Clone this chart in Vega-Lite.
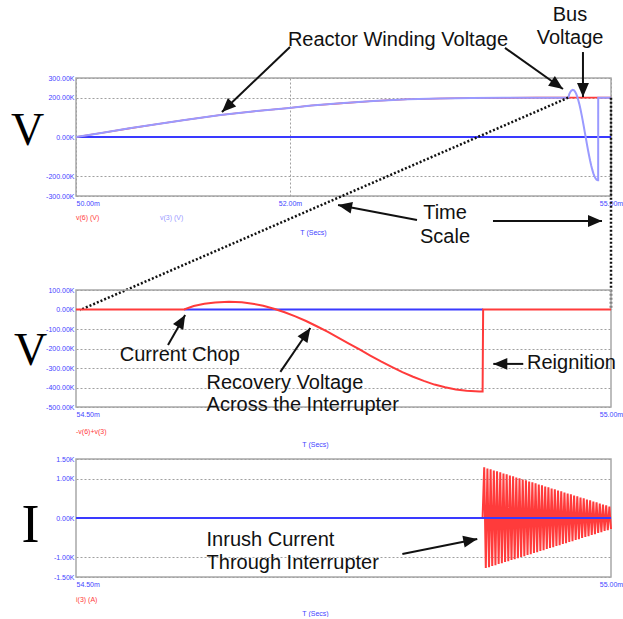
{
  "$schema": "https://vega.github.io/schema/vega-lite/v6.json",
  "padding": {"left": 9, "top": 4, "right": 0, "bottom": 0},
  "bounds": "flush",
  "spacing": 94,
  "config": {
    "view": {"stroke": "#a8a8a8", "strokeWidth": 1.5},
    "axis": {"domain": false, "ticks": false, "labelFont": "Liberation Sans", "labelFontSize": 7, "labelColor": "#4444ff", "labelPadding": 3, "gridColor": "#a0a0a0", "gridDash": [2, 2], "gridWidth": 1, "titleFont": "Liberation Sans", "titleFontSize": 7, "titleColor": "#4444ff", "titleFontWeight": "normal"},
    "axisY": {"labelPadding": 2},
    "text": {"font": "Liberation Sans", "fontSize": 20, "color": "#111"}
  },
  "datasets": {
    "top_zero": [{"t": 50, "v": 0}, {"t": 55, "v": 0}],
    "top_v6": [
      {"t": 50.0, "v": 0}, {"t": 50.25, "v": 22}, {"t": 50.5, "v": 44}, {"t": 50.75, "v": 65}, {"t": 51.0, "v": 85}, {"t": 51.35, "v": 112}, {"t": 51.65, "v": 130}, {"t": 51.97, "v": 146}, {"t": 52.2, "v": 160}, {"t": 52.47, "v": 171}, {"t": 52.78, "v": 183}, {"t": 53.1, "v": 192}, {"t": 53.4, "v": 196}, {"t": 53.7, "v": 198}, {"t": 54.0, "v": 199}, {"t": 54.3, "v": 200}, {"t": 54.601, "v": 200}, {"t": 54.88, "v": 200}, {"t": 55.0, "v": 200}
    ],
    "top_v3": [
      {"t": 50.0, "v": 0}, {"t": 50.25, "v": 22}, {"t": 50.5, "v": 44}, {"t": 50.75, "v": 65}, {"t": 51.0, "v": 85}, {"t": 51.35, "v": 112}, {"t": 51.65, "v": 130}, {"t": 51.97, "v": 146}, {"t": 52.2, "v": 160}, {"t": 52.47, "v": 171}, {"t": 52.78, "v": 183}, {"t": 53.1, "v": 192}, {"t": 53.4, "v": 196}, {"t": 53.7, "v": 198}, {"t": 54.0, "v": 199}, {"t": 54.3, "v": 200}, {"t": 54.601, "v": 200},
      {"t": 54.61, "v": 218}, {"t": 54.62, "v": 229}, {"t": 54.63, "v": 236}, {"t": 54.643, "v": 240}, {"t": 54.655, "v": 237}, {"t": 54.665, "v": 230}, {"t": 54.675, "v": 219}, {"t": 54.685, "v": 204}, {"t": 54.695, "v": 186}, {"t": 54.705, "v": 165}, {"t": 54.715, "v": 141}, {"t": 54.725, "v": 114}, {"t": 54.735, "v": 86}, {"t": 54.745, "v": 56}, {"t": 54.755, "v": 25}, {"t": 54.765, "v": -5}, {"t": 54.775, "v": -36}, {"t": 54.785, "v": -66}, {"t": 54.795, "v": -94}, {"t": 54.805, "v": -121}, {"t": 54.815, "v": -145}, {"t": 54.825, "v": -166}, {"t": 54.835, "v": -185}, {"t": 54.845, "v": -199}, {"t": 54.855, "v": -210}, {"t": 54.865, "v": -217}, {"t": 54.877, "v": -220}, {"t": 54.88, "v": -220}, {"t": 54.8805, "v": 200}, {"t": 55.0, "v": 200}
    ],
    "top_zoom": [{"t": 54.6, "v": 200, "t2": 50.037, "v2": -880}, {"t": 55, "v": 200, "t2": 55, "v2": -880}],
    "top_arrows": [
      {"id": "rwv1", "t": 51.364, "v": 127, "t2": 52.0, "v2": 458},
      {"id": "rwv2", "t": 54.551, "v": 244, "t2": 54.009, "v2": 453},
      {"id": "bus", "t": 54.738, "v": 203, "t2": 54.738, "v2": 432},
      {"id": "ts1", "t": 52.449, "v": -346, "t2": 53.187, "v2": -422},
      {"id": "ts2", "t": 54.916, "v": -427, "t2": 53.897, "v2": -427}
    ],
    "top_notes": [
      {"t": 53.009, "v": 493, "label": "Reactor Winding Voltage"},
      {"t": 54.617, "v": 620, "label": "Bus"},
      {"t": 54.617, "v": 503, "label": "Voltage"},
      {"t": 53.449, "v": -386, "label": "Time"},
      {"t": 53.449, "v": -509, "label": "Scale"}
    ],
    "top_legend": [{"t": 50, "v": -412, "s": "v(6) (V)"}, {"t": 50.785, "v": -412, "s": "v(3) (V)"}],
    "mid_zero": [{"t": 54.601, "v": 0}, {"t": 54.8805, "v": 0}],
    "mid_rv": [
      {"t": 54.5, "v": 0}, {"t": 54.601, "v": 0}, {"t": 54.61, "v": 18}, {"t": 54.62, "v": 29}, {"t": 54.63, "v": 36}, {"t": 54.643, "v": 40}, {"t": 54.655, "v": 37}, {"t": 54.665, "v": 30}, {"t": 54.675, "v": 19}, {"t": 54.685, "v": 4}, {"t": 54.695, "v": -14}, {"t": 54.705, "v": -35}, {"t": 54.715, "v": -59}, {"t": 54.725, "v": -86}, {"t": 54.735, "v": -114}, {"t": 54.745, "v": -144}, {"t": 54.755, "v": -175}, {"t": 54.765, "v": -205}, {"t": 54.775, "v": -236}, {"t": 54.785, "v": -266}, {"t": 54.795, "v": -294}, {"t": 54.805, "v": -321}, {"t": 54.815, "v": -345}, {"t": 54.825, "v": -366}, {"t": 54.835, "v": -385}, {"t": 54.845, "v": -399}, {"t": 54.855, "v": -410}, {"t": 54.865, "v": -417}, {"t": 54.877, "v": -420}, {"t": 54.88, "v": -420}, {"t": 54.8805, "v": 0}, {"t": 55.0, "v": 0}
    ],
    "mid_arrows": [
      {"id": "chop", "t": 54.602, "v": -28, "t2": 54.586, "v2": -182},
      {"id": "rec", "t": 54.719, "v": -95, "t2": 54.691, "v2": -320},
      {"id": "reig", "t": 54.89, "v": -279, "t2": 54.918, "v2": -279}
    ],
    "mid_notes_c": [{"t": 54.597, "v": -233, "label": "Current Chop"}],
    "mid_notes_l": [
      {"t": 54.622, "v": -377, "label": "Recovery Voltage"},
      {"t": 54.622, "v": -490, "label": "Across the Interrupter"},
      {"t": 54.9215, "v": -274, "label": "Reignition"}
    ],
    "mid_legend": [{"t": 54.5, "v": -628, "s": "-v(6)+v(3)"}],
    "bot_zero": [{"t": 54.5, "v": 0}, {"t": 55, "v": 0}],
    "bot_i3": [
      {"t": 54.5, "v": 0}, {"t": 54.88, "v": 0},
      {"t": 54.8815, "v": 1.29}, {"t": 54.883, "v": -1.27}, {"t": 54.8845, "v": 1.26}, {"t": 54.886, "v": -1.25}, {"t": 54.8875, "v": 1.24}, {"t": 54.889, "v": -1.22}, {"t": 54.8905, "v": 1.21}, {"t": 54.892, "v": -1.2}, {"t": 54.8935, "v": 1.19}, {"t": 54.895, "v": -1.17},
      {"t": 54.8965, "v": 1.16}, {"t": 54.898, "v": -1.15}, {"t": 54.8995, "v": 1.13}, {"t": 54.901, "v": -1.12}, {"t": 54.9025, "v": 1.11}, {"t": 54.904, "v": -1.1}, {"t": 54.9055, "v": 1.08}, {"t": 54.907, "v": -1.07}, {"t": 54.9085, "v": 1.06}, {"t": 54.91, "v": -1.05},
      {"t": 54.9115, "v": 1.03}, {"t": 54.913, "v": -1.02}, {"t": 54.9145, "v": 1.01}, {"t": 54.916, "v": -0.99}, {"t": 54.9175, "v": 0.98}, {"t": 54.919, "v": -0.97}, {"t": 54.9205, "v": 0.96}, {"t": 54.922, "v": -0.94}, {"t": 54.9235, "v": 0.93}, {"t": 54.925, "v": -0.92},
      {"t": 54.9265, "v": 0.91}, {"t": 54.928, "v": -0.89}, {"t": 54.9295, "v": 0.88}, {"t": 54.931, "v": -0.87}, {"t": 54.9325, "v": 0.85}, {"t": 54.934, "v": -0.84}, {"t": 54.9355, "v": 0.83}, {"t": 54.937, "v": -0.82}, {"t": 54.9385, "v": 0.8}, {"t": 54.94, "v": -0.79},
      {"t": 54.9415, "v": 0.78}, {"t": 54.943, "v": -0.76}, {"t": 54.9445, "v": 0.75}, {"t": 54.946, "v": -0.74}, {"t": 54.9475, "v": 0.73}, {"t": 54.949, "v": -0.71}, {"t": 54.9505, "v": 0.7}, {"t": 54.952, "v": -0.69}, {"t": 54.9535, "v": 0.68}, {"t": 54.955, "v": -0.66},
      {"t": 54.9565, "v": 0.65}, {"t": 54.958, "v": -0.64}, {"t": 54.9595, "v": 0.62}, {"t": 54.961, "v": -0.61}, {"t": 54.9625, "v": 0.6}, {"t": 54.964, "v": -0.59}, {"t": 54.9655, "v": 0.57}, {"t": 54.967, "v": -0.56}, {"t": 54.9685, "v": 0.55}, {"t": 54.97, "v": -0.54},
      {"t": 54.9715, "v": 0.52}, {"t": 54.973, "v": -0.51}, {"t": 54.9745, "v": 0.5}, {"t": 54.976, "v": -0.48}, {"t": 54.9775, "v": 0.47}, {"t": 54.979, "v": -0.46}, {"t": 54.9805, "v": 0.45}, {"t": 54.982, "v": -0.43}, {"t": 54.9835, "v": 0.42}, {"t": 54.985, "v": -0.41},
      {"t": 54.9865, "v": 0.4}, {"t": 54.988, "v": -0.38}, {"t": 54.9895, "v": 0.37}, {"t": 54.991, "v": -0.36}, {"t": 54.9925, "v": 0.34}, {"t": 54.994, "v": -0.33}, {"t": 54.9955, "v": 0.32}, {"t": 54.997, "v": -0.31}, {"t": 54.9985, "v": 0.29}, {"t": 55.0, "v": -0.28}
    ],
    "bot_arrows": [{"id": "inr", "t": 54.875, "v": -0.534, "t2": 54.805, "v2": -0.915}],
    "bot_notes": [
      {"t": 54.622, "v": -0.559, "label": "Inrush Current"},
      {"t": 54.622, "v": -1.144, "label": "Through Interrupter"}
    ],
    "bot_legend": [{"t": 54.5, "v": -2.084, "s": "i(3) (A)"}]
  },
  "vconcat": [
    {
      "width": 535,
      "height": 118,
      "encoding": {
        "x": {"field": "t", "type": "quantitative", "scale": {"domain": [50, 55], "nice": false, "zero": false},
          "axis": {"values": [50, 52, 55], "labelExpr": "format(datum.value,'.2f')+'m'", "title": "T (Secs)", "titleX": 237, "titleY": 36, "titleAlign": "center", "titleBaseline": "middle", "labelFlush": false, "labelAlign": {"condition": {"test": "datum.value == 50", "value": "left"}, "value": "center"}, "grid": true}},
        "y": {"field": "v", "type": "quantitative", "scale": {"domain": [-300, 300], "nice": false, "zero": false},
          "axis": {"values": [-300, -200, 0, 200, 300], "labelExpr": "replace(format(datum.value,'.2f'),'\u2212','-')+'K'", "title": "V", "titleFont": "Liberation Serif", "titleFontSize": 46, "titleColor": "#000", "titleAngle": 0, "titleX": -49, "titleY": 52, "titleAlign": "center", "titleBaseline": "middle"}}
      },
      "layer": [
        {"data": {"name": "top_zero"}, "mark": {"type": "line", "color": "#3a3aff", "strokeWidth": 2}},
        {"data": {"name": "top_v6"}, "mark": {"type": "line", "color": "#ff3b3b", "strokeWidth": 1.6}},
        {"data": {"name": "top_v3"}, "mark": {"type": "line", "color": "#9a9aff", "strokeWidth": 2}},
        {"data": {"name": "top_zoom"}, "mark": {"type": "rule", "color": "#111", "strokeWidth": 2.5, "strokeDash": [2, 2]}, "encoding": {"x2": {"field": "t2"}, "y2": {"field": "v2"}}},
        {"data": {"name": "top_arrows"}, "mark": {"type": "rule", "color": "#111", "strokeWidth": 2}, "encoding": {"x2": {"field": "t2"}, "y2": {"field": "v2"}}},
        {"data": {"name": "top_arrows"}, "transform": [{"filter": "datum.id == 'rwv1'"}], "mark": {"type": "point", "shape": "M0,0L0.85,2L-0.85,2Z", "filled": true, "color": "#111", "opacity": 1, "size": 196, "angle": 226}},
        {"data": {"name": "top_arrows"}, "transform": [{"filter": "datum.id == 'rwv2'"}], "mark": {"type": "point", "shape": "M0,0L0.85,2L-0.85,2Z", "filled": true, "color": "#111", "opacity": 1, "size": 196, "angle": 125}},
        {"data": {"name": "top_arrows"}, "transform": [{"filter": "datum.id == 'bus'"}], "mark": {"type": "point", "shape": "M0,0L0.85,2L-0.85,2Z", "filled": true, "color": "#111", "opacity": 1, "size": 196, "angle": 180}},
        {"data": {"name": "top_arrows"}, "transform": [{"filter": "datum.id == 'ts1'"}], "mark": {"type": "point", "shape": "M0,0L0.85,2L-0.85,2Z", "filled": true, "color": "#111", "opacity": 1, "size": 196, "angle": 281}},
        {"data": {"name": "top_arrows"}, "transform": [{"filter": "datum.id == 'ts2'"}], "mark": {"type": "point", "shape": "M0,0L0.85,2L-0.85,2Z", "filled": true, "color": "#111", "opacity": 1, "size": 196, "angle": 90}},
        {"data": {"name": "top_notes"}, "mark": {"type": "text", "align": "center", "baseline": "middle"}, "encoding": {"text": {"field": "label"}}},
        {"data": {"name": "top_legend"}, "mark": {"type": "text", "align": "left", "baseline": "middle", "fontSize": 7}, "encoding": {"text": {"field": "s"}, "color": {"field": "s", "type": "nominal", "scale": {"domain": ["v(6) (V)", "v(3) (V)", "-v(6)+v(3)", "i(3) (A)"], "range": ["#ff3b3b", "#9a9aff", "#ff3b3b", "#ff3b3b"]}, "legend": null}}}
      ]
    },
    {
      "spacing": 52,
      "bounds": "flush",
      "vconcat": [
        {
          "width": 535,
          "height": 117,
          "encoding": {
            "x": {"field": "t", "type": "quantitative", "scale": {"domain": [54.5, 55], "nice": false, "zero": false},
              "axis": {"values": [54.5, 55], "labelExpr": "format(datum.value,'.2f')+'m'", "title": "T (Secs)", "titleX": 239, "titleY": 37, "titleAlign": "center", "titleBaseline": "middle", "labelFlush": false, "labelAlign": {"condition": {"test": "datum.value == 54.5", "value": "left"}, "value": "center"}, "grid": false}},
            "y": {"field": "v", "type": "quantitative", "scale": {"domain": [-500, 100], "nice": false, "zero": false},
              "axis": {"values": [100, 0, -100, -200, -300, -400, -500], "labelExpr": "replace(format(datum.value,'.2f'),'\u2212','-')+'K'", "title": "V", "titleFont": "Liberation Serif", "titleFontSize": 46, "titleColor": "#000", "titleAngle": 0, "titleX": -46, "titleY": 60, "titleAlign": "center", "titleBaseline": "middle"}}
          },
          "layer": [
            {"data": {"name": "mid_zero"}, "mark": {"type": "line", "color": "#3a3aff", "strokeWidth": 2}},
            {"data": {"name": "mid_rv"}, "mark": {"type": "line", "color": "#ff3b3b", "strokeWidth": 2}},
            {"data": {"name": "mid_arrows"}, "mark": {"type": "rule", "color": "#111", "strokeWidth": 2}, "encoding": {"x2": {"field": "t2"}, "y2": {"field": "v2"}}},
            {"data": {"name": "mid_arrows"}, "transform": [{"filter": "datum.id == 'chop'"}], "mark": {"type": "point", "shape": "M0,0L0.85,2L-0.85,2Z", "filled": true, "color": "#111", "opacity": 1, "size": 196, "angle": 30}},
            {"data": {"name": "mid_arrows"}, "transform": [{"filter": "datum.id == 'rec'"}], "mark": {"type": "point", "shape": "M0,0L0.85,2L-0.85,2Z", "filled": true, "color": "#111", "opacity": 1, "size": 196, "angle": 34}},
            {"data": {"name": "mid_arrows"}, "transform": [{"filter": "datum.id == 'reig'"}], "mark": {"type": "point", "shape": "M0,0L0.85,2L-0.85,2Z", "filled": true, "color": "#111", "opacity": 1, "size": 196, "angle": 270}},
            {"data": {"name": "mid_notes_c"}, "mark": {"type": "text", "align": "center", "baseline": "middle"}, "encoding": {"text": {"field": "label"}}},
            {"data": {"name": "mid_notes_l"}, "mark": {"type": "text", "align": "left", "baseline": "middle"}, "encoding": {"text": {"field": "label"}}},
            {"data": {"name": "mid_legend"}, "mark": {"type": "text", "align": "left", "baseline": "middle", "fontSize": 7}, "encoding": {"text": {"field": "s"}, "color": {"field": "s", "type": "nominal", "scale": {"domain": ["v(6) (V)", "v(3) (V)", "-v(6)+v(3)", "i(3) (A)"], "range": ["#ff3b3b", "#9a9aff", "#ff3b3b", "#ff3b3b"]}, "legend": null}}}
          ]
        },
        {
          "width": 535,
          "height": 118,
          "encoding": {
            "x": {"field": "t", "type": "quantitative", "scale": {"domain": [54.5, 55], "nice": false, "zero": false},
              "axis": {"values": [54.5, 55], "labelExpr": "format(datum.value,'.2f')+'m'", "title": "T (Secs)", "titleX": 239, "titleY": 36, "titleAlign": "center", "titleBaseline": "middle", "labelFlush": false, "labelAlign": {"condition": {"test": "datum.value == 54.5", "value": "left"}, "value": "center"}, "grid": false}},
            "y": {"field": "v", "type": "quantitative", "scale": {"domain": [-1.5, 1.5], "nice": false, "zero": false},
              "axis": {"values": [1.5, 1, 0, -1, -1.5], "labelExpr": "replace(format(datum.value,'.2f'),'\u2212','-')+'K'", "title": "I", "titleFont": "Liberation Serif", "titleFontSize": 54, "titleColor": "#000", "titleAngle": 0, "titleX": -46, "titleY": 66, "titleAlign": "center", "titleBaseline": "middle"}}
          },
          "layer": [
            {"data": {"name": "bot_i3"}, "mark": {"type": "line", "color": "#ff3b3b", "strokeWidth": 2}},
            {"data": {"name": "bot_zero"}, "mark": {"type": "line", "color": "#3a3aff", "strokeWidth": 2}},
            {"data": {"name": "bot_arrows"}, "mark": {"type": "rule", "color": "#111", "strokeWidth": 2}, "encoding": {"x2": {"field": "t2"}, "y2": {"field": "v2"}}},
            {"data": {"name": "bot_arrows"}, "transform": [{"filter": "datum.id == 'inr'"}], "mark": {"type": "point", "shape": "M0,0L0.85,2L-0.85,2Z", "filled": true, "color": "#111", "opacity": 1, "size": 196, "angle": 79}},
            {"data": {"name": "bot_notes"}, "mark": {"type": "text", "align": "left", "baseline": "middle"}, "encoding": {"text": {"field": "label"}}},
            {"data": {"name": "bot_legend"}, "mark": {"type": "text", "align": "left", "baseline": "middle", "fontSize": 7}, "encoding": {"text": {"field": "s"}, "color": {"field": "s", "type": "nominal", "scale": {"domain": ["v(6) (V)", "v(3) (V)", "-v(6)+v(3)", "i(3) (A)"], "range": ["#ff3b3b", "#9a9aff", "#ff3b3b", "#ff3b3b"]}, "legend": null}}}
          ]
        }
      ]
    }
  ]
}
